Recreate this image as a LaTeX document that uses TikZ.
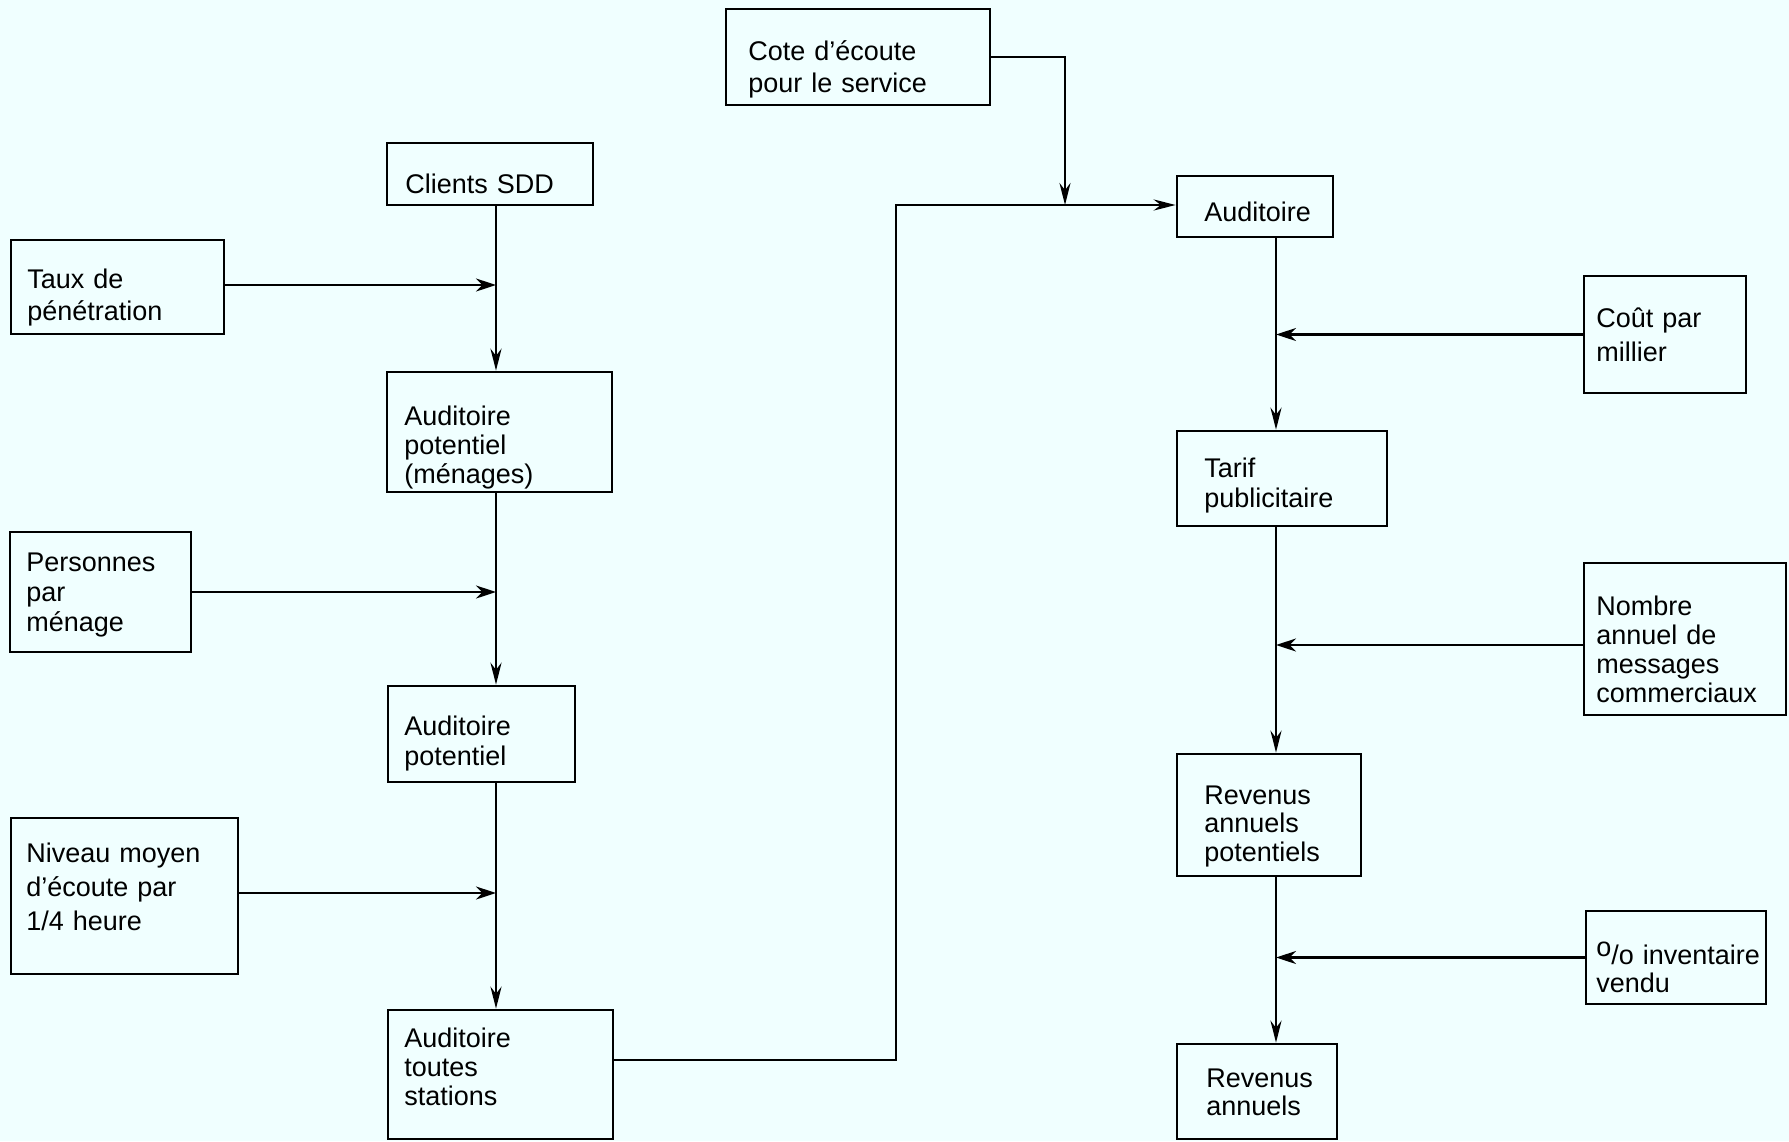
\documentclass[tikz,border=0pt]{standalone}
\usepackage{fontspec}
\setmainfont{Liberation Sans}
\usetikzlibrary{arrows.meta}
\definecolor{bg}{RGB}{240,255,255}
\begin{document}
\begin{tikzpicture}[x=0.5pt,y=-0.5pt,
  box/.style={draw, line width=1.3pt, inner sep=0pt},
  txt/.style={anchor=base west, inner sep=0pt, align=left, text width=120pt, font=\fontsize{13.5}{#1}\selectfont},
  txt/.default=14.5pt,
  flow/.style={line width=1.3pt, -{Stealth[length=11pt,width=5.5pt]}},
  side/.style={line width=1.3pt, -{Stealth[length=10pt,width=6.5pt]}}]
\fill[bg] (0,0) rectangle (1789,1141);
\useasboundingbox (0,0) rectangle (1789,1141);

% left column
\node[box, minimum width=103pt, minimum height=31pt] (clients) at (490,174) {};
\node[txt] (clients-t) at (405,193) {Clients SDD};
\node[box, minimum width=106.5pt, minimum height=47pt] (taux) at (117.5,287) {};
\node[txt=16pt] (taux-t) at (27,288) {Taux de\\pénétration};
\node[box, minimum width=112.5pt, minimum height=60pt] (audmen) at (499.5,432) {};
\node[txt] (audmen-t) at (404,425) {Auditoire\\potentiel\\(ménages)};
\node[box, minimum width=90.5pt, minimum height=60pt] (pers) at (100.5,592) {};
\node[txt=15pt] (pers-t) at (26,571) {Personnes\\par\\ménage};
\node[box, minimum width=93.5pt, minimum height=48pt] (audpot) at (481.5,734) {};
\node[txt=15pt] (audpot-t) at (404,735) {Auditoire\\potentiel};
\node[box, minimum width=113.5pt, minimum height=78pt] (niveau) at (124.5,896) {};
\node[txt=17pt] (niveau-t) at (26,862) {Niveau moyen\\d’écoute par\\1/4 heure};
\node[box, minimum width=112.5pt, minimum height=64.5pt] (audtout) at (500.5,1074.5) {};
\node[txt] (audtout-t) at (404,1047) {Auditoire\\toutes\\stations};

% top / right column
\node[box, minimum width=132pt, minimum height=48pt] (cote) at (858,57) {};
\node[txt=16pt] (cote-t) at (748,60) {Cote d’écoute\\pour le service};
\node[box, minimum width=78pt, minimum height=30.5pt] (aud) at (1255,206.5) {};
\node[txt] (aud-t) at (1204,221) {Auditoire};
\node[box, minimum width=81pt, minimum height=58.5pt] (cout) at (1665,334.5) {};
\node[txt=17pt] (cout-t) at (1596,327) {Coût par\\millier};
\node[box, minimum width=105pt, minimum height=47.5pt] (tarif) at (1282,478.5) {};
\node[txt=15pt] (tarif-t) at (1204,477) {Tarif\\publicitaire};
\node[box, minimum width=101pt, minimum height=76pt] (nombre) at (1685,639) {};
\node[txt] (nombre-t) at (1596,615) {Nombre\\annuel de\\messages\\commerciaux};
\node[box, minimum width=92pt, minimum height=61pt] (revpot) at (1269,815) {};
\node[txt=14.25pt] (revpot-t) at (1204,804) {Revenus\\annuels\\potentiels};
\node[box, minimum width=90pt, minimum height=46.5pt] (inv) at (1676,957.5) {};
\node[txt=14.25pt] (inv-t) at (1596,964) {\mbox{\raisebox{0.5ex}{o}/o inventaire}\\vendu};
\node[box, minimum width=80pt, minimum height=47.5pt] (rev) at (1257,1091.5) {};
\node[txt=14.25pt] (rev-t) at (1206,1087) {Revenus\\annuels};

% connectors
\coordinate (lx) at (496,0);
\coordinate (rx) at (1276,0);
\coordinate (j1) at (896,205);
\coordinate (j2) at (1065,205);

\draw[flow] (clients.south -| lx) -- (audmen.north -| lx);
\draw[flow] (audmen.south -| lx) -- (audpot.north -| lx);
\draw[flow] (audpot.south -| lx) -- (audtout.north -| lx);
\draw[side] ([yshift=1pt]taux.east) -- ([yshift=1pt]taux.east -| lx);
\draw[side] (pers.east) -- (pers.east -| lx);
\draw[side] ([yshift=1.5pt]niveau.east) -- ([yshift=1.5pt]niveau.east -| lx);

\draw[flow] ([yshift=7.25pt]audtout.east) -| (j1) -- (j1 -| aud.west);
\draw[flow] (cote.east) -| (j2);

\draw[flow] (aud.south -| rx) -- (tarif.north -| rx);
\draw[flow] (tarif.south -| rx) -- (revpot.north -| rx);
\draw[flow] (revpot.south -| rx) -- (rev.north -| rx);
\draw[side] (cout.west) -- (cout.west -| rx);
\draw[side] ([yshift=-3pt]nombre.west) -- ([yshift=-3pt]nombre.west -| rx);
\draw[side] (inv.west) -- (inv.west -| rx);
\end{tikzpicture}
\end{document}
